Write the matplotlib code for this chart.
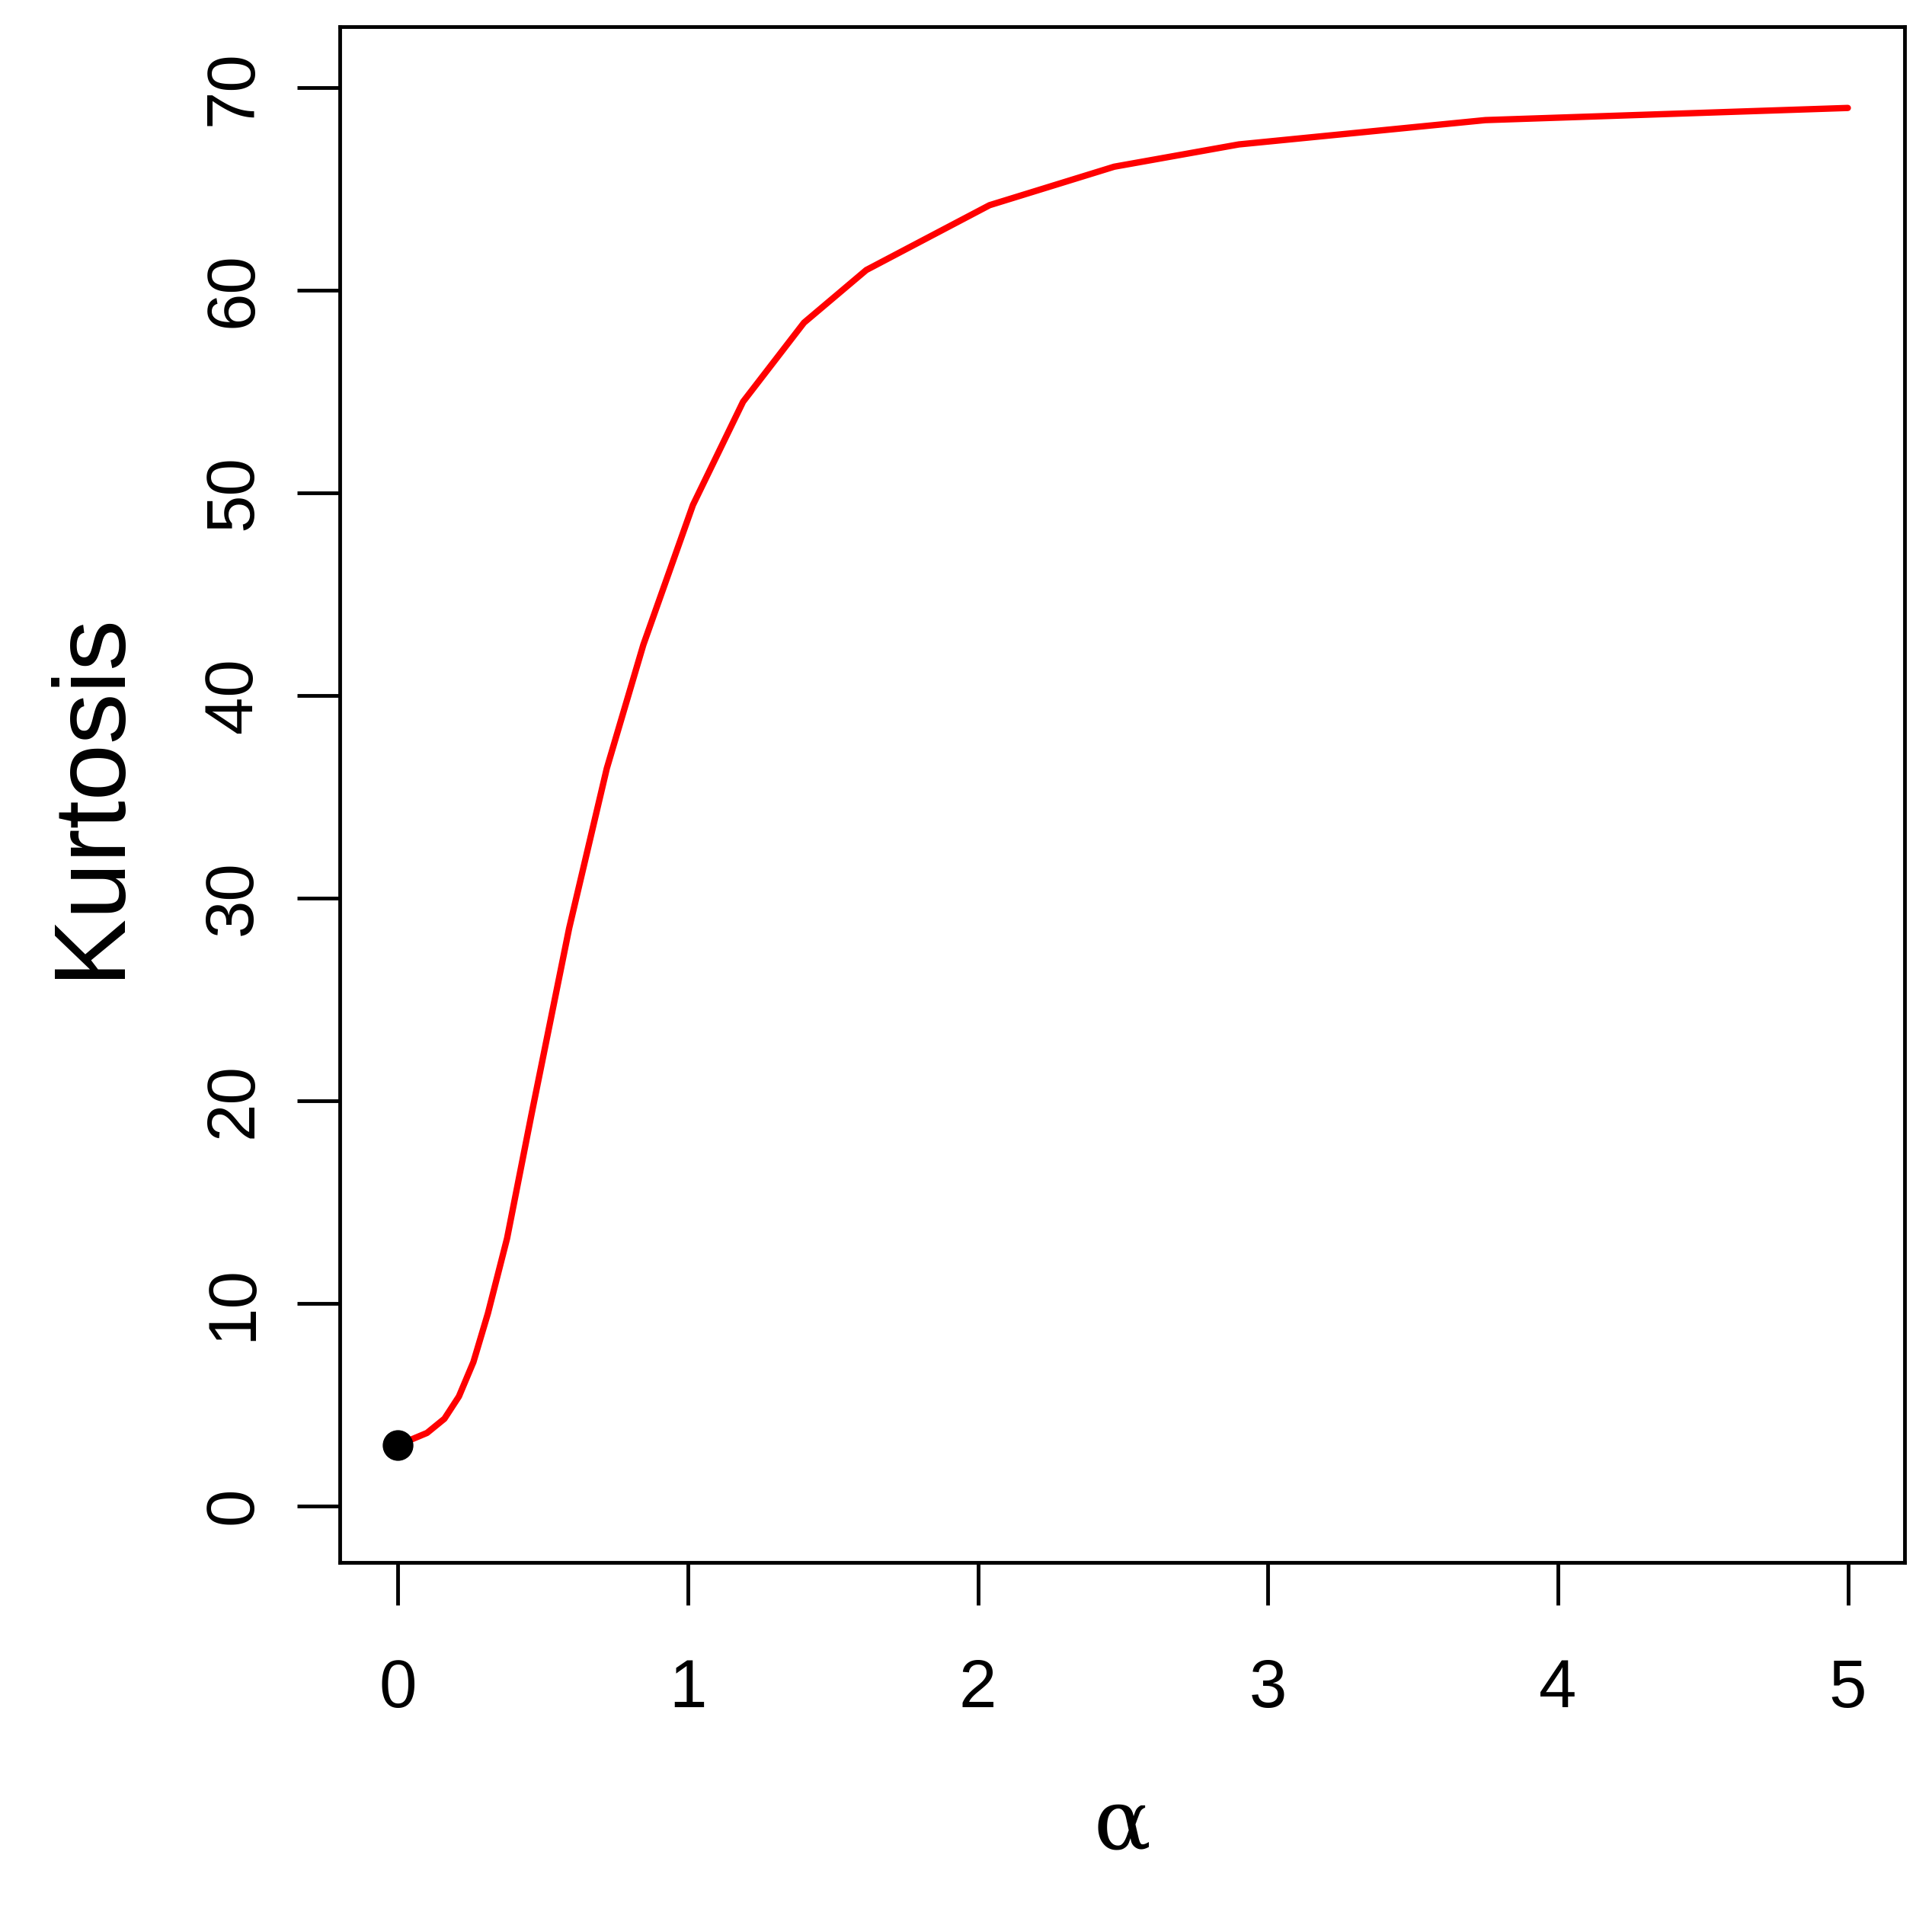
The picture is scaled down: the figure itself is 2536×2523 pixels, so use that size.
import matplotlib
matplotlib.use("Agg")
import matplotlib.pyplot as plt

alpha = [0.0, 0.1, 0.16, 0.21, 0.26, 0.31, 0.376, 0.46, 0.59, 0.72, 0.846, 1.017, 1.19, 1.40, 1.615, 2.04, 2.47, 2.9, 3.75, 5.0]
kurt = [3.0, 3.6, 4.3, 5.4, 7.1, 9.5, 13.2, 19.3, 28.5, 36.4, 42.5, 49.4, 54.5, 58.4, 61.0, 64.2, 66.1, 67.2, 68.4, 69.0]
xticks = [0, 1, 2, 3, 4, 5]
yticks = [0, 10, 20, 30, 40, 50, 60, 70]

plt.rcParams['font.family'] = ['Liberation Sans', 'DejaVu Sans']
fig = plt.figure(figsize=(25.36, 25.23), dpi=100)
ax = fig.add_axes([0.176, 0.187, 0.81, 0.799])
ax.plot(alpha, kurt, color='red', lw=6, solid_capstyle='round')
ax.plot([0], [3], 'o', color='black', ms=28)
ax.set_xlim(-0.2, 5.197)
ax.set_ylim(-2.8, 73.0)
ax.set_xticks(xticks)
ax.set_yticks(yticks)
for s in ax.spines.values():
    s.set_linewidth(3.5)
ax.tick_params(width=3.5, length=40, labelsize=64, direction='out')
ax.tick_params(axis='x', pad=50)
ax.tick_params(axis='y', pad=30)
for lab in ax.get_yticklabels():
    lab.set_rotation(90)
    lab.set_va('center')
ax.set_xlabel('α', fontsize=80, labelpad=60, family=['DejaVu Serif'])
ax.set_ylabel('Kurtosis', fontsize=96, labelpad=60)
fig.savefig('out.png', dpi=100)
